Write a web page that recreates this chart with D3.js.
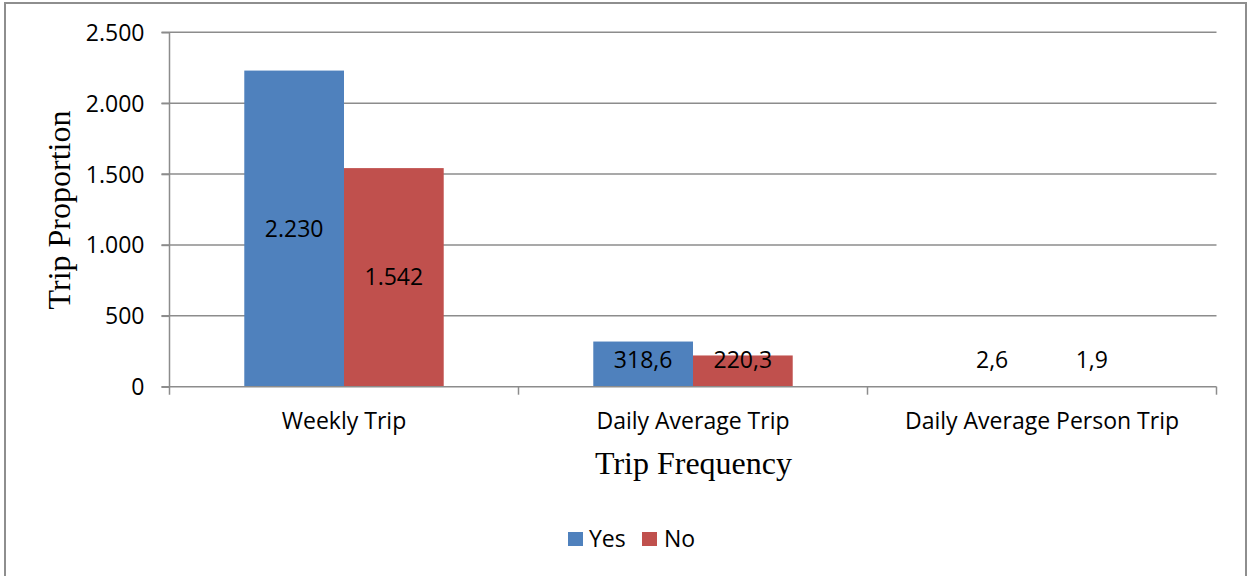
<!DOCTYPE html>
<html>
<head>
<meta charset="utf-8">
<script src="https://cdn.jsdelivr.net/npm/d3@7"></script>
<style>
  html, body { margin: 0; padding: 0; background: #fff; }
  svg { display: block; }
  .sans { font-family: "Open Sans", Lato, "Liberation Sans", sans-serif; fill: #000; }
  .serif { font-family: "Liberation Serif", "DejaVu Serif", serif; fill: #000; }
</style>
</head>
<body>
<svg id="chart" width="1253" height="576"></svg>
<script>
// Trip frequency by group (Yes / No)
const categories = ["Weekly Trip", "Daily Average Trip", "Daily Average Person Trip"];
const seriesNames = ["Yes", "No"];
const yesValues = [2230, 318.6, 2.6];
const noValues = [1542, 220.3, 1.9];
const yTicks = [0, 500, 1000, 1500, 2000, 2500];
const seriesColors = ["#4F81BD", "#C0504D"];

const values = { Yes: yesValues, No: noValues };

// European number style: "." for thousands, "," for decimals
const locale = d3.formatLocale({ decimal: ",", thousands: ".", grouping: [3], currency: ["", ""] });
const fmtInt = locale.format(",d");
const fmtDec = locale.format(",.1f");
const fmtValue = v => Number.isInteger(v) ? fmtInt(v) : fmtDec(v);

const svg = d3.select("#chart");
const W = 1253, H = 576;
const labelSize = 23;

// Outer frame of the chart area
svg.append("path")
  .attr("d", `M5,${H + 2} L5,3 L1246,3 L1246,${H + 2}`)
  .attr("fill", "none")
  .attr("stroke", "#8e8e8e")
  .attr("stroke-width", 2);

const plot = { left: 169.5, right: 1216.5, top: 32.3, bottom: 386.7 };

const x = d3.scaleBand()
  .domain(categories)
  .range([plot.left, plot.right])
  .padding(0);

// Two bars per category with a 150% gap around the pair
const xs = d3.scaleBand()
  .domain(seriesNames)
  .range([0, x.bandwidth()])
  .paddingInner(0)
  .paddingOuter(0.75);

const y = d3.scaleLinear()
  .domain([0, 2500])
  .range([plot.bottom, plot.top]);

const gridColor = "#8c8c8c";

// Horizontal gridlines
svg.append("g")
  .selectAll("line")
  .data(yTicks.filter(t => t > 0))
  .join("line")
  .attr("x1", plot.left - 8)
  .attr("x2", plot.right)
  .attr("y1", d => y(d))
  .attr("y2", d => y(d))
  .attr("stroke", gridColor)
  .attr("stroke-width", 1.5);

// Bars
const groups = svg.append("g")
  .selectAll("g")
  .data(categories)
  .join("g")
  .attr("transform", d => `translate(${x(d)},0)`);

groups.selectAll("rect")
  .data(c => seriesNames.map(s => ({ s, v: values[s][categories.indexOf(c)] })))
  .join("rect")
  .attr("x", d => xs(d.s))
  .attr("width", xs.bandwidth())
  .attr("y", d => y(d.v))
  .attr("height", d => y(0) - y(d.v))
  .attr("fill", (d, i) => seriesColors[i]);

// Value labels, centred in the bar but kept clear of the axis
groups.selectAll("text")
  .data(c => seriesNames.map(s => ({ s, v: values[s][categories.indexOf(c)] })))
  .join("text")
  .attr("class", "sans")
  .attr("font-size", labelSize)
  .attr("text-anchor", "middle")
  .attr("x", d => xs(d.s) + xs.bandwidth() / 2)
  .attr("y", d => Math.min((y(d.v) + y(0)) / 2, y(0) - 27) + 8)
  .text(d => fmtValue(d.v));

// Y axis
const yAxis = svg.append("g")
  .attr("transform", `translate(${plot.left},0)`)
  .call(d3.axisLeft(y).tickValues(yTicks).tickSize(8).tickPadding(17).tickFormat(fmtInt));
yAxis.select(".domain").remove();
yAxis.selectAll(".tick line").attr("stroke", gridColor).attr("stroke-width", 1.5);
yAxis.selectAll(".tick text")
  .attr("class", "sans")
  .attr("font-size", labelSize)
  .attr("dy", null)
  .attr("y", 8);
yAxis.append("line")
  .attr("x1", 0).attr("x2", 0)
  .attr("y1", plot.top).attr("y2", plot.bottom + 8)
  .attr("stroke", gridColor).attr("stroke-width", 1.5);

// X axis with tick marks at category boundaries
const xAxis = svg.append("g");
xAxis.append("line")
  .attr("x1", plot.left - 8).attr("x2", plot.right)
  .attr("y1", plot.bottom).attr("y2", plot.bottom)
  .attr("stroke", gridColor).attr("stroke-width", 1.5);
xAxis.selectAll("line.bound")
  .data(categories.map(c => x(c) + x.bandwidth()))
  .join("line")
  .attr("class", "bound")
  .attr("x1", d => d).attr("x2", d => d)
  .attr("y1", plot.bottom).attr("y2", plot.bottom + 8)
  .attr("stroke", gridColor).attr("stroke-width", 1.5);
xAxis.selectAll("text")
  .data(categories)
  .join("text")
  .attr("class", "sans")
  .attr("font-size", labelSize)
  .attr("text-anchor", "middle")
  .attr("x", d => x(d) + x.bandwidth() / 2)
  .attr("y", 429)
  .text(d => d);

// Axis titles
svg.append("text")
  .attr("class", "serif")
  .attr("font-size", 32)
  .attr("text-anchor", "middle")
  .attr("transform", "translate(70,210) rotate(-90)")
  .text("Trip Proportion");

svg.append("text")
  .attr("class", "serif")
  .attr("font-size", 32)
  .attr("text-anchor", "middle")
  .attr("x", 693.5)
  .attr("y", 474)
  .text("Trip Frequency");

// Legend
const legendX = [568, 642];
const legend = svg.append("g")
  .selectAll("g")
  .data(seriesNames)
  .join("g")
  .attr("transform", (d, i) => `translate(${legendX[i]},532)`);
legend.append("rect")
  .attr("width", 15).attr("height", 14)
  .attr("fill", (d, i) => seriesColors[i]);
legend.append("text")
  .attr("class", "sans")
  .attr("font-size", 23)
  .attr("x", (d, i) => i === 0 ? 21 : 22)
  .attr("y", 15)
  .text(d => d);
</script>
</body>
</html>
